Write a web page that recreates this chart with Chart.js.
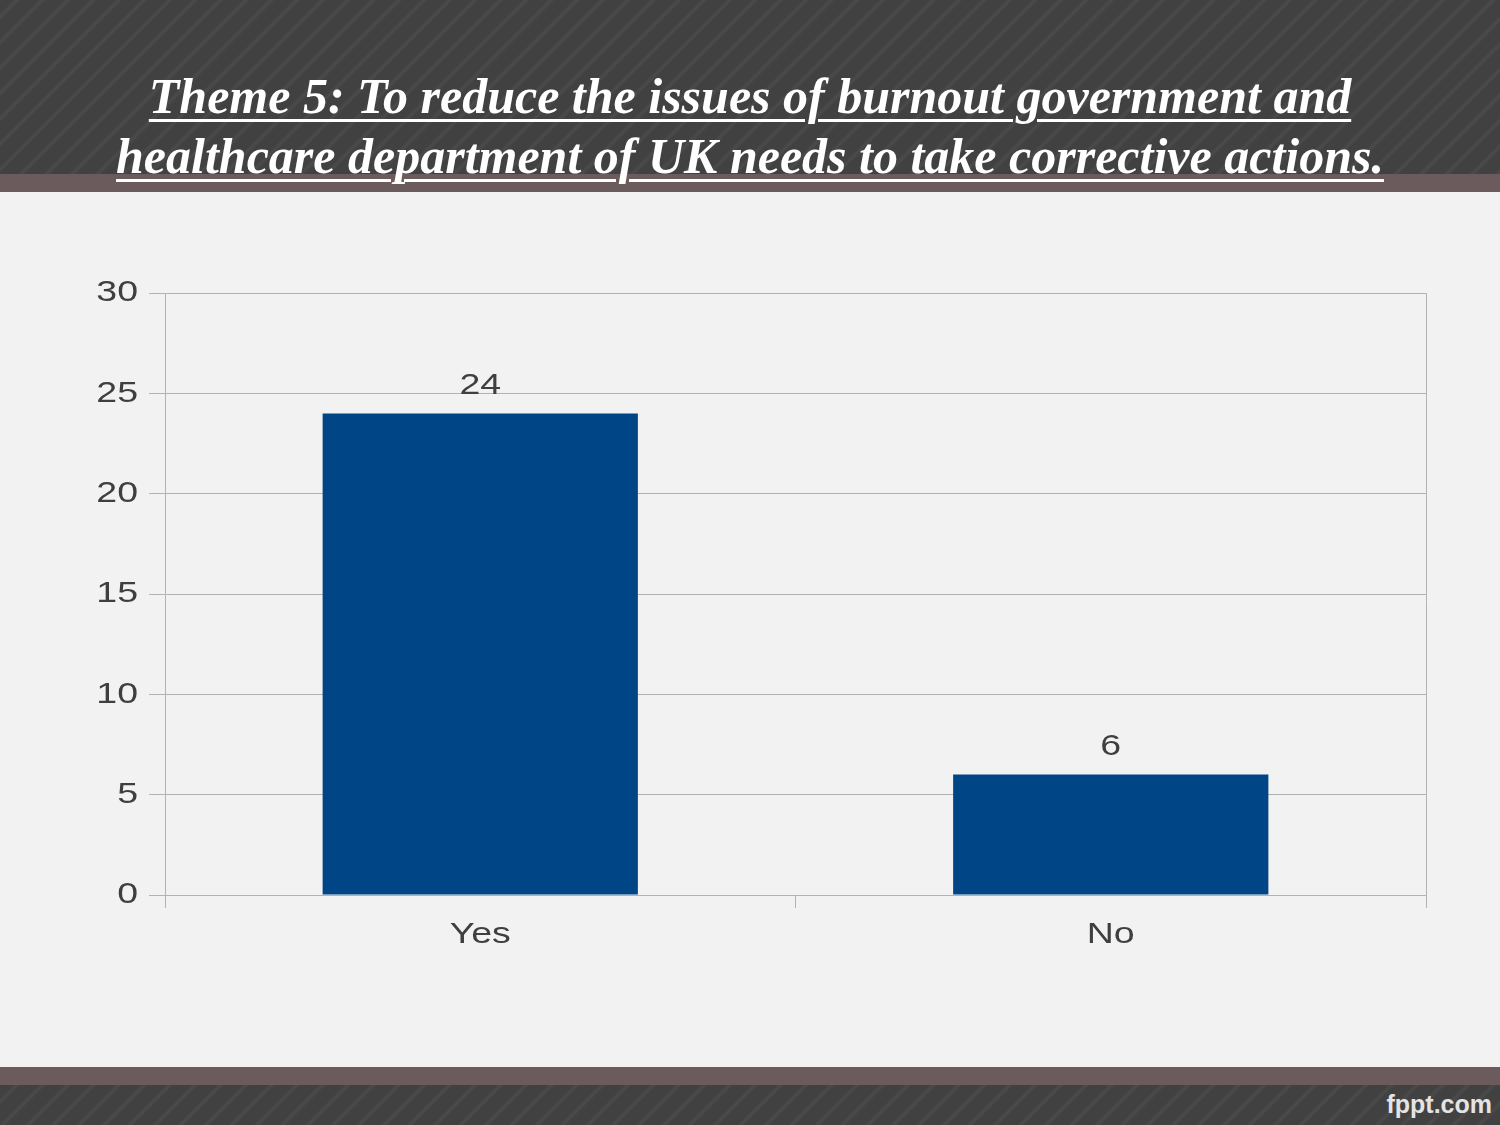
<!DOCTYPE html>
<html>
<head>
<meta charset="utf-8">
<script src="https://cdn.jsdelivr.net/npm/chart.js@4.4.1/dist/chart.umd.min.js"></script>
<style>
  html, body { margin: 0; padding: 0; }
  body { width: 1500px; height: 1125px; position: relative; overflow: hidden; background: #f2f2f2; }
  .stripes {
    position: absolute; left: 0; width: 1500px;
    background-color: #414141;
    background-image: repeating-linear-gradient(135deg, #414141 0px, #414141 9px, #4b4b4b 12px, #414141 15px, #414141 18px);
  }
  #header { top: 0; height: 174px; }
  #footer { top: 1085px; height: 40px; }
  .band { position: absolute; left: 0; width: 1500px; background: #6c5b5c; }
  #band1 { top: 174px; height: 18px; }
  #band2 { top: 1067px; height: 18px; }
  #title {
    position: absolute; left: 0; top: 66px; width: 1500px; text-align: center;
    font-family: "Liberation Serif", serif; font-weight: bold; font-style: italic;
    font-size: 50px; line-height: 60px; color: #ffffff; text-decoration: underline;
    text-decoration-thickness: 3px; text-underline-offset: 6px;
  }
  #logo {
    position: absolute; right: 8px; top: 1090px;
    font-family: "Liberation Sans", sans-serif; font-weight: bold; font-size: 25px; color: #e4e4e4;
  }
  #wrap { position: absolute; left: 0; top: 192px; width: 1500px; height: 875px; }
</style>
</head>
<body>
<div id="header" class="stripes"></div>
<div id="band1" class="band"></div>
<div id="title">Theme 5: To reduce the issues of burnout government and<br>healthcare department of UK needs to take corrective actions.</div>
<div id="wrap"><canvas id="chart"></canvas></div>
<div id="band2" class="band"></div>
<div id="footer" class="stripes"></div>
<div id="logo">fppt.com</div>
<script>
const categories = ['Yes', 'No'];
const responses = [24, 6];
const yTicks = [0, 5, 10, 15, 20, 25, 30];

const gridColor = '#b3b3b3';
const textColor = '#3f3f3f';
const labelFont = '"Liberation Sans", Arial, sans-serif';
const stretch = 1.25;

// the slide text is drawn horizontally stretched; scale each label about its anchor
const wideText = {
  id: 'wideText',
  beforeInit(chart) {
    const ctx = chart.ctx;
    const fill = ctx.fillText.bind(ctx);
    ctx.fillText = function (text, x, y, maxWidth) {
      ctx.save();
      ctx.translate(x, y);
      ctx.scale(stretch, 1);
      fill(text, 0, 0, maxWidth);
      ctx.restore();
    };
  }
};

// value labels above each bar
const valueLabels = {
  id: 'valueLabels',
  afterDatasetsDraw(chart) {
    const ctx = chart.ctx;
    const meta = chart.getDatasetMeta(0);
    ctx.save();
    ctx.font = '30px ' + labelFont;
    ctx.fillStyle = textColor;
    ctx.textAlign = 'center';
    ctx.textBaseline = 'bottom';
    meta.data.forEach((bar, i) => {
      ctx.fillText(String(chart.data.datasets[0].data[i]), bar.x, bar.y - 13);
    });
    ctx.restore();
  }
};

// right edge of the plot area
const plotBorder = {
  id: 'plotBorder',
  beforeDatasetsDraw(chart) {
    const a = chart.chartArea;
    const ctx = chart.ctx;
    ctx.save();
    ctx.strokeStyle = gridColor;
    ctx.lineWidth = 1;
    ctx.beginPath();
    ctx.moveTo(a.right + 0.5, a.top);
    ctx.lineTo(a.right + 0.5, a.bottom + 13);
    ctx.stroke();
    ctx.restore();
  }
};

new Chart(document.getElementById('chart'), {
  type: 'bar',
  data: {
    labels: categories,
    datasets: [{
      data: responses,
      backgroundColor: '#004586',
      borderWidth: 0,
      categoryPercentage: 0.5,
      barPercentage: 1.0
    }]
  },
  options: {
    responsive: true,
    maintainAspectRatio: false,
    animation: false,
    layout: { padding: { top: 101, right: 74, bottom: 0, left: 0 } },
    plugins: { legend: { display: false }, tooltip: { enabled: false } },
    scales: {
      x: {
        grid: { color: gridColor, drawOnChartArea: false, drawTicks: true, tickLength: 13, offset: true },
        border: { color: gridColor },
        ticks: { color: textColor, font: { family: labelFont, size: 30 }, padding: 9 },
        afterFit(scale) { scale.height = 172; }
      },
      y: {
        min: 0,
        max: 30,
        afterBuildTicks(scale) { scale.ticks = yTicks.map(v => ({ value: v })); },
        grid: { color: gridColor, tickLength: 16 },
        border: { color: gridColor },
        ticks: { color: textColor, font: { family: labelFont, size: 30 }, padding: 11 },
        afterFit(scale) { scale.width = 165; }
      }
    }
  },
  plugins: [wideText, valueLabels, plotBorder]
});
</script>
</body>
</html>
